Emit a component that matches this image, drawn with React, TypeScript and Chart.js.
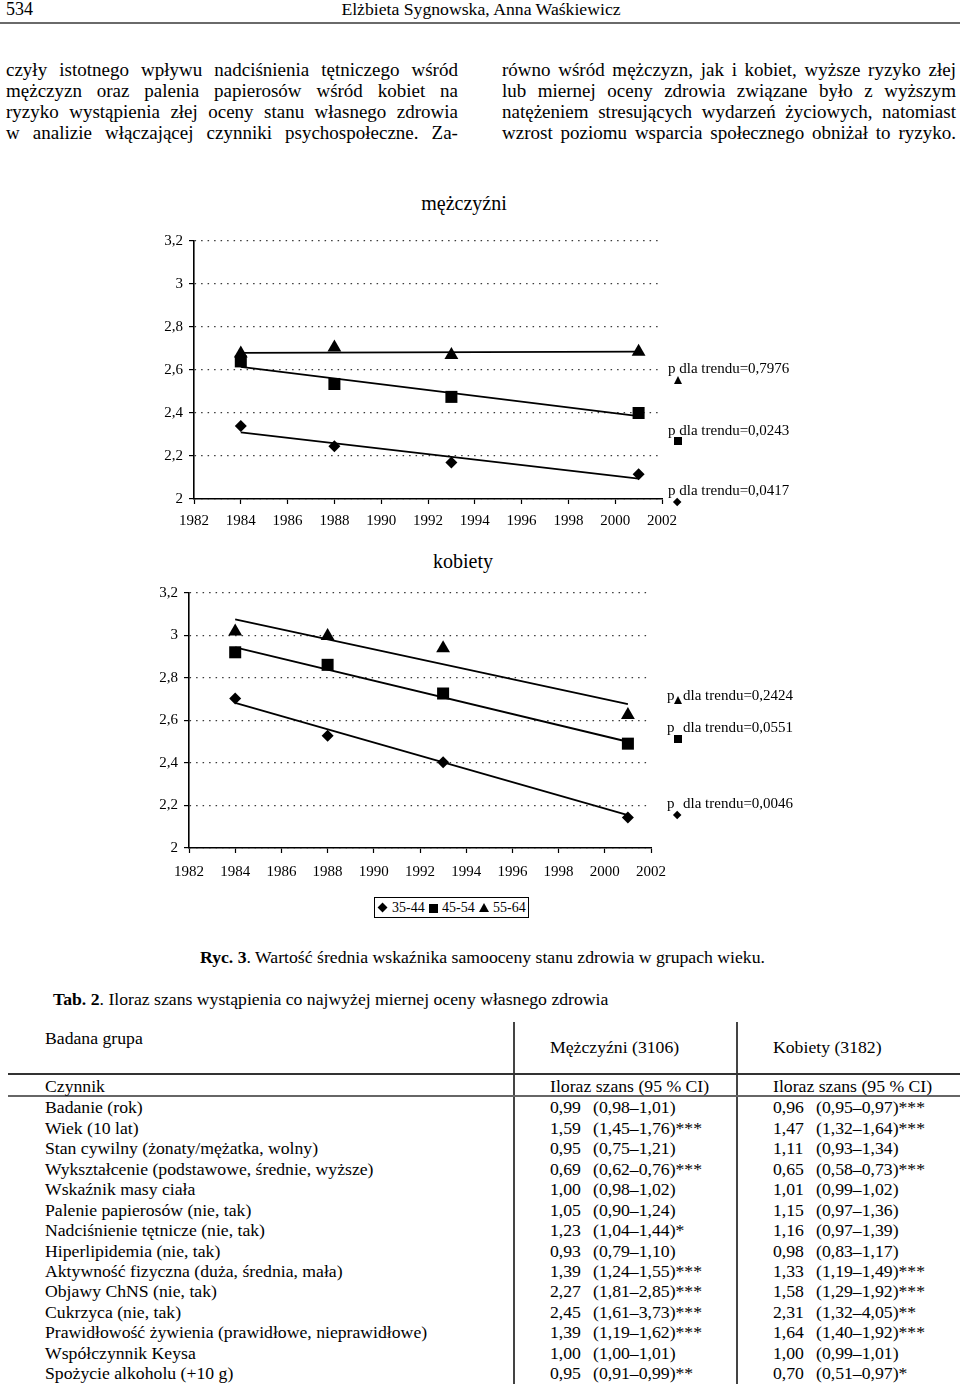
import React, { useEffect, useRef } from "react";
import { Chart, registerables } from "chart.js";

Chart.register(...registerables);

const SERIF = '"Liberation Serif", "Times New Roman", Times, serif';
Chart.defaults.font.family = SERIF;

// ---------- chart data ----------
const years = [1984, 1988, 1993, 2001];
const trendYears = [1984, 2001];
const xTickLabels = ["1982", "1984", "1986", "1988", "1990", "1992", "1994", "1996", "1998", "2000", "2002"];
const yTickLabels = ["2", "2,2", "2,4", "2,6", "2,8", "3", "3,2"];
const seriesLabels = ["35-44", "45-54", "55-64"];

// mężczyźni
const men35 = [2.34, 2.245, 2.17, 2.115];
const men45 = [2.64, 2.535, 2.475, 2.4];
const men55 = [2.677, 2.705, 2.67, 2.685];
const menTrend35 = [2.31, 2.095];
const menTrend45 = [2.615, 2.385];
const menTrend55 = [2.68, 2.685];
const menP = ["0,7976", "0,0243", "0,0417"];

// kobiety
const women35 = [2.703, 2.528, 2.404, 2.144];
const women45 = [2.921, 2.862, 2.727, 2.491];
const women55 = [3.019, 2.998, 2.94, 2.626];
const womenTrend35 = [2.683, 2.155];
const womenTrend45 = [2.944, 2.5];
const womenTrend55 = [3.076, 2.677];
const womenP = ["0,2424", "0,0551", "0,0046"];

// ---------- table data ----------
const factors = [
  "Badanie (rok)",
  "Wiek (10 lat)",
  "Stan cywilny (żonaty/mężatka, wolny)",
  "Wykształcenie (podstawowe, średnie, wyższe)",
  "Wskaźnik masy ciała",
  "Palenie papierosów (nie, tak)",
  "Nadciśnienie tętnicze (nie, tak)",
  "Hiperlipidemia (nie, tak)",
  "Aktywność fizyczna (duża, średnia, mała)",
  "Objawy ChNS (nie, tak)",
  "Cukrzyca (nie, tak)",
  "Prawidłowość żywienia (prawidłowe, nieprawidłowe)",
  "Współczynnik Keysa",
  "Spożycie alkoholu (+10 g)",
];
const menOR = ["0,99", "1,59", "0,95", "0,69", "1,00", "1,05", "1,23", "0,93", "1,39", "2,27", "2,45", "1,39", "1,00", "0,95"];
const menCI = ["(0,98–1,01)", "(1,45–1,76)***", "(0,75–1,21)", "(0,62–0,76)***", "(0,98–1,02)", "(0,90–1,24)", "(1,04–1,44)*", "(0,79–1,10)", "(1,24–1,55)***", "(1,81–2,85)***", "(1,61–3,73)***", "(1,19–1,62)***", "(1,00–1,01)", "(0,91–0,99)**"];
const womenOR = ["0,96", "1,47", "1,11", "0,65", "1,01", "1,15", "1,16", "0,98", "1,33", "1,58", "2,31", "1,64", "1,00", "0,70"];
const womenCI = ["(0,95–0,97)***", "(1,32–1,64)***", "(0,93–1,34)", "(0,58–0,73)***", "(0,99–1,02)", "(0,97–1,36)", "(0,97–1,39)", "(0,83–1,17)", "(1,19–1,49)***", "(1,29–1,92)***", "(1,32–4,05)**", "(1,40–1,92)***", "(0,99–1,01)", "(0,51–0,97)*"];

// ---------- text ----------
const leftLines = [
  "czyły istotnego wpływu nadciśnienia tętniczego wśród",
  "mężczyzn oraz palenia papierosów wśród kobiet na",
  "ryzyko wystąpienia złej oceny stanu własnego zdrowia",
  "w analizie włączającej czynniki psychospołeczne. Za-",
];
const rightLines = [
  "równo wśród mężczyzn, jak i kobiet, wyższe ryzyko złej",
  "lub miernej oceny zdrowia związane było z wyższym",
  "natężeniem stresujących wydarzeń życiowych, natomiast",
  "wzrost poziomu wsparcia społecznego obniżał to ryzyko.",
];

type ChartProps = {
  left: number;
  top: number;
  width: number;
  height: number;
  yAxisW: number;
  xAxisH: number;
  padTop: number;
  padRight: number;
  xLabelPad: number;
  s35: number[];
  s45: number[];
  s55: number[];
  t35: number[];
  t45: number[];
  t55: number[];
};

function buildConfig(p: ChartProps): any {
  const pts = (vals: number[]) => years.map((x, i) => ({ x, y: vals[i] }));
  const trend = (vals: number[]) => trendYears.map((x, i) => ({ x, y: vals[i] }));
  const marker = (label: string, vals: number[], style: string, r: number) => ({
    label,
    data: pts(vals),
    pointStyle: style,
    pointRadius: r,
    pointHoverRadius: r,
    backgroundColor: "#000",
    borderColor: "#000",
    borderWidth: 0,
    showLine: false,
  });
  const line = (label: string, vals: number[]) => ({
    label,
    data: trend(vals),
    showLine: true,
    borderColor: "#000",
    borderWidth: 1.8,
    pointRadius: 0,
    pointHoverRadius: 0,
    fill: false,
    tension: 0,
  });
  const tickFont = { family: SERIF, size: 15 };
  return {
    type: "scatter",
    data: {
      datasets: [
        line("trend " + seriesLabels[0], p.t35),
        line("trend " + seriesLabels[1], p.t45),
        line("trend " + seriesLabels[2], p.t55),
        marker(seriesLabels[0], p.s35, "rectRot", 6),
        marker(seriesLabels[1], p.s45, "rect", 8.5),
        marker(seriesLabels[2], p.s55, "triangle", 8),
      ],
    },
    options: {
      animation: false,
      responsive: false,
      maintainAspectRatio: false,
      layout: { padding: { top: p.padTop, right: p.padRight, left: 0, bottom: 0 } },
      plugins: {
        legend: { display: false },
        tooltip: { enabled: false },
        title: { display: false },
      },
      scales: {
        x: {
          type: "linear",
          min: 1982,
          max: 2002,
          ticks: {
            stepSize: 2,
            autoSkip: false,
            maxRotation: 0,
            color: "#000",
            font: tickFont,
            padding: p.xLabelPad,
            callback: (_v: any, i: number) => xTickLabels[i],
          },
          grid: {
            drawOnChartArea: false,
            drawTicks: true,
            tickLength: 5,
            color: "#000",
            tickColor: "#000",
            tickWidth: 1.2,
          },
          border: { display: true, color: "#000", width: 1.6 },
          afterFit: (s: any) => {
            s.height = p.xAxisH;
          },
        },
        y: {
          type: "linear",
          min: 2,
          max: 3.2,
          ticks: {
            stepSize: 0.2,
            color: "#000",
            font: tickFont,
            padding: 6,
            callback: (_v: any, i: number) => yTickLabels[i],
          },
          grid: {
            drawOnChartArea: true,
            drawTicks: true,
            tickLength: 5,
            color: "#3a3a3a",
            lineWidth: 1.2,
            tickColor: "#000",
            tickWidth: 1.2,
            tickBorderDash: [],
          },
          border: { display: true, color: "#000", width: 1.6, dash: [1.5, 5] },
          afterFit: (s: any) => {
            s.width = p.yAxisW;
          },
        },
      },
    },
  };
}

function TrendChart(p: ChartProps) {
  const ref = useRef<HTMLCanvasElement>(null);
  useEffect(() => {
    const chart = new Chart(ref.current as HTMLCanvasElement, buildConfig(p));
    return () => chart.destroy();
  }, []);
  return (
    <canvas
      ref={ref}
      width={p.width}
      height={p.height}
      style={{ position: "absolute", left: p.left, top: p.top, width: p.width, height: p.height }}
    />
  );
}

function Txt(props: {
  x: number;
  y: number;
  size?: number;
  center?: boolean;
  bold?: boolean;
  children: React.ReactNode;
}) {
  const size = props.size ?? 17.7;
  return (
    <div
      style={{
        position: "absolute",
        left: props.x,
        top: props.y - size * 0.6,
        fontSize: size,
        lineHeight: `${size * 1.2}px`,
        whiteSpace: "nowrap",
        fontWeight: props.bold ? "bold" : "normal",
        transform: props.center ? "translateX(-50%)" : undefined,
      }}
    >
      {props.children}
    </div>
  );
}

function JLine({ x, y, w, text, size }: { x: number; y: number; w: number; text: string; size: number }) {
  const words = text.split(" ");
  return (
    <div
      style={{
        position: "absolute",
        left: x,
        top: y - size * 0.6,
        width: w,
        display: "flex",
        justifyContent: "space-between",
        fontSize: size,
        lineHeight: `${size * 1.2}px`,
        whiteSpace: "nowrap",
      }}
    >
      {words.map((wd, i) => (
        <span key={i}>{wd}</span>
      ))}
    </div>
  );
}

function Marker({ kind, cx, cy, s }: { kind: "diamond" | "square" | "triangle"; cx: number; cy: number; s: number }) {
  if (kind === "triangle") {
    const h = s * 0.9;
    return (
      <div
        style={{
          position: "absolute",
          left: cx - s / 2,
          top: cy - h / 2,
          width: 0,
          height: 0,
          borderLeft: `${s / 2}px solid transparent`,
          borderRight: `${s / 2}px solid transparent`,
          borderBottom: `${h}px solid #000`,
        }}
      />
    );
  }
  if (kind === "square") {
    return <div style={{ position: "absolute", left: cx - s / 2, top: cy - s / 2, width: s, height: s, background: "#000" }} />;
  }
  const side = s / Math.SQRT2;
  return (
    <div
      style={{
        position: "absolute",
        left: cx - side / 2,
        top: cy - side / 2,
        width: side,
        height: side,
        background: "#000",
        transform: "rotate(45deg)",
      }}
    />
  );
}

export default function App() {
  const bodySize = 19;
  const rowY0 = 1108;
  const rowStep = 20.45;
  return (
    <div
      style={{
        position: "absolute",
        left: 0,
        top: 0,
        width: 960,
        height: 1384,
        overflow: "hidden",
        background: "#fff",
        color: "#000",
        fontFamily: SERIF,
      }}
    >
      {/* header */}
      <Txt x={6} y={10} size={18}>534</Txt>
      <Txt x={481} y={10} size={17.7} center>
        Elżbieta Sygnowska, Anna Waśkiewicz
      </Txt>
      <div style={{ position: "absolute", left: 0, top: 22, width: 960, height: 2, background: "#6a6a6a" }} />

      {/* body text */}
      {leftLines.map((t, i) => (
        <JLine key={"l" + i} x={6} y={70 + i * 21} w={452} text={t} size={bodySize} />
      ))}
      {rightLines.map((t, i) => (
        <JLine key={"r" + i} x={502} y={70 + i * 21} w={454} text={t} size={bodySize} />
      ))}

      {/* chart 1 */}
      <Txt x={464} y={203} size={20} center>mężczyźni</Txt>
      <TrendChart
        left={130}
        top={226}
        width={560}
        height={310}
        yAxisW={64}
        xAxisH={37}
        padTop={12}
        padRight={28}
        xLabelPad={8}
        s35={men35}
        s45={men45}
        s55={men55}
        t35={menTrend35}
        t45={menTrend45}
        t55={menTrend55}
      />
      <Txt x={668} y={368} size={15}>p dla trendu={menP[0]}</Txt>
      <Marker kind="triangle" cx={678} cy={380} s={9} />
      <Txt x={668} y={430} size={15}>p dla trendu={menP[1]}</Txt>
      <Marker kind="square" cx={678} cy={441} s={8} />
      <Txt x={668} y={490} size={15}>p dla trendu={menP[2]}</Txt>
      <Marker kind="diamond" cx={677} cy={502} s={9} />

      {/* chart 2 */}
      <Txt x={463} y={561} size={20} center>kobiety</Txt>
      <TrendChart
        left={125}
        top={578}
        width={560}
        height={312}
        yAxisW={64}
        xAxisH={42}
        padTop={12}
        padRight={34}
        xLabelPad={10}
        s35={women35}
        s45={women45}
        s55={women55}
        t35={womenTrend35}
        t45={womenTrend45}
        t55={womenTrend55}
      />
      <Txt x={667} y={695} size={15}>p</Txt>
      <Marker kind="triangle" cx={678} cy={700} s={9} />
      <Txt x={683} y={695} size={15}>dla trendu={womenP[0]}</Txt>
      <Txt x={667} y={727} size={15}>p</Txt>
      <Marker kind="square" cx={678} cy={739} s={8} />
      <Txt x={683} y={727} size={15}>dla trendu={womenP[1]}</Txt>
      <Txt x={667} y={803} size={15}>p</Txt>
      <Marker kind="diamond" cx={677} cy={815} s={9} />
      <Txt x={683} y={803} size={15}>dla trendu={womenP[2]}</Txt>

      {/* legend */}
      <div
        style={{
          position: "absolute",
          left: 374,
          top: 897,
          width: 155,
          height: 21,
          border: "1.5px solid #000",
          boxSizing: "border-box",
        }}
      />
      <Marker kind="diamond" cx={383} cy={908} s={10} />
      <Txt x={392} y={908} size={14}>{seriesLabels[0]}</Txt>
      <Marker kind="square" cx={433} cy={908} s={9} />
      <Txt x={442} y={908} size={14}>{seriesLabels[1]}</Txt>
      <Marker kind="triangle" cx={484} cy={908} s={11} />
      <Txt x={493} y={908} size={14}>{seriesLabels[2]}</Txt>

      {/* caption */}
      <Txt x={200} y={958} size={17.7}>
        <b>Ryc. 3</b>. Wartość średnia wskaźnika samooceny stanu zdrowia w grupach wieku.
      </Txt>
      <Txt x={53} y={1000} size={17.7}>
        <b>Tab. 2</b>. Iloraz szans wystąpienia co najwyżej miernej oceny własnego zdrowia
      </Txt>

      {/* table */}
      <div style={{ position: "absolute", left: 513, top: 1022, width: 1.5, height: 362, background: "#444" }} />
      <div style={{ position: "absolute", left: 736, top: 1022, width: 1.5, height: 362, background: "#444" }} />
      <div style={{ position: "absolute", left: 8, top: 1073, width: 952, height: 1.5, background: "#333" }} />
      <div style={{ position: "absolute", left: 8, top: 1095, width: 952, height: 2, background: "#666" }} />
      <Txt x={45} y={1039}>Badana grupa</Txt>
      <Txt x={550} y={1048}>Mężczyźni (3106)</Txt>
      <Txt x={773} y={1048}>Kobiety (3182)</Txt>
      <Txt x={45} y={1086.5}>Czynnik</Txt>
      <Txt x={550} y={1086.5}>Iloraz szans (95 % CI)</Txt>
      <Txt x={773} y={1086.5}>Iloraz szans (95 % CI)</Txt>
      {factors.map((f, i) => {
        const y = rowY0 + i * rowStep;
        return (
          <React.Fragment key={"row" + i}>
            <Txt x={45} y={y}>{f}</Txt>
            <Txt x={550} y={y}>{menOR[i]}</Txt>
            <Txt x={593} y={y}>{menCI[i]}</Txt>
            <Txt x={773} y={y}>{womenOR[i]}</Txt>
            <Txt x={816} y={y}>{womenCI[i]}</Txt>
          </React.Fragment>
        );
      })}
    </div>
  );
}
